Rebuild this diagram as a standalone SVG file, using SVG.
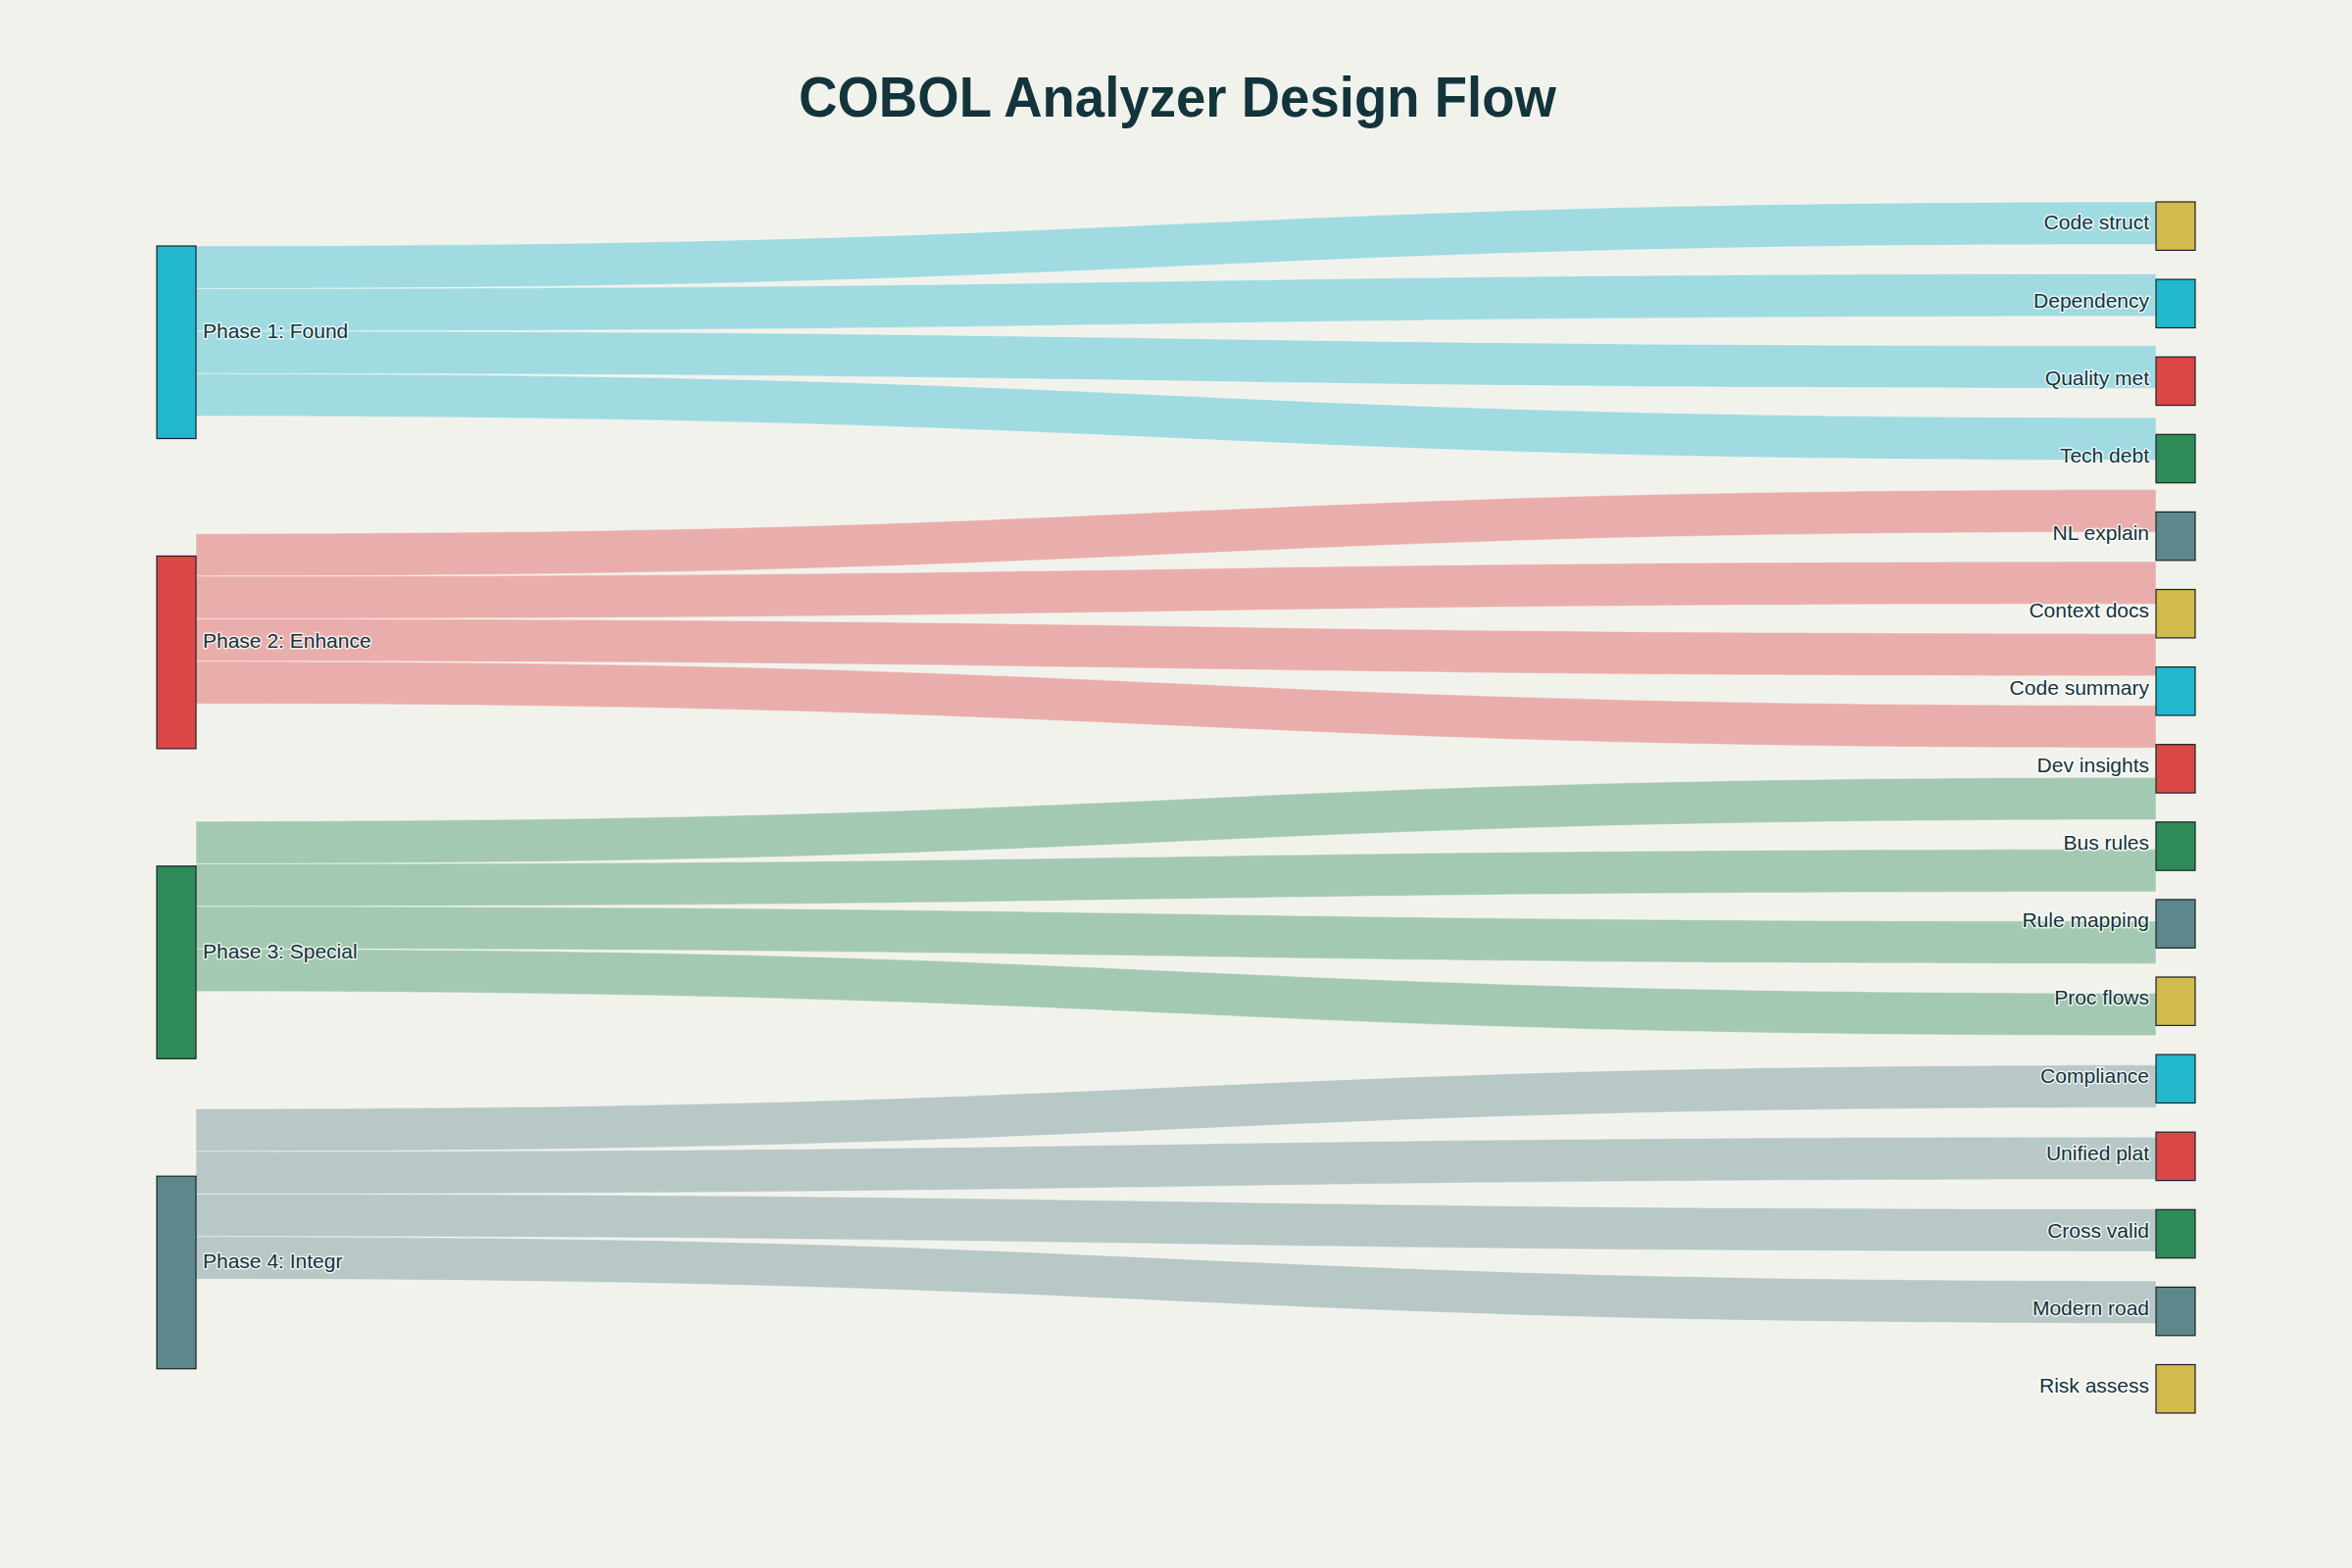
<svg xmlns="http://www.w3.org/2000/svg" width="2400" height="1600" viewBox="0 0 2400 1600">
<style>
.bg{fill:#f2f2ed}
.title{font-family:"Liberation Sans",Arial,sans-serif;font-weight:bold;font-size:58px;fill:#13343b}
.lbl{font-family:"Liberation Sans",Arial,sans-serif;font-size:21px;fill:#13343b;paint-order:stroke;stroke:#ffffff;stroke-opacity:0.75;stroke-width:3px;stroke-linejoin:round}
.lr{text-anchor:end}
.node{stroke:#1a2326;stroke-width:1.2}
.c{fill:#21b8cd}.r{fill:#db4747}.g{fill:#2e8b57}.s{fill:#5e878c}.y{fill:#d2ba4c}
.link{stroke:#f6f6f2;stroke-width:0.8;stroke-opacity:0.6}
.lc{fill:#9fdbe1}.lr2{fill:#e9aeab}.lg{fill:#a4c9b2}.ls{fill:#b7c8c7}
</style>
<rect class="bg" x="0" y="0" width="2400" height="1600"/>
<text class="title" x="815" y="119" textLength="773" lengthAdjust="spacingAndGlyphs">COBOL Analyzer Design Flow</text>
<g id="links">
<path class="link lc" d="M200,251C1200,251 1200,206 2200,206L2200,249.4C1200,249.4 1200,294.4 200,294.4Z"/>
<path class="link lc" d="M200,294.45C1200,294.45 1200,279.4 2200,279.4L2200,322.8C1200,322.8 1200,337.85 200,337.85Z"/>
<path class="link lc" d="M200,337.9C1200,337.9 1200,352.8 2200,352.8L2200,396.2C1200,396.2 1200,381.3 200,381.3Z"/>
<path class="link lc" d="M200,381.35C1200,381.35 1200,426.2 2200,426.2L2200,469.6C1200,469.6 1200,424.75 200,424.75Z"/>
<path class="link lr2" d="M200,544.5C1200,544.5 1200,499.6 2200,499.6L2200,543C1200,543 1200,587.9 200,587.9Z"/>
<path class="link lr2" d="M200,587.95C1200,587.95 1200,573 2200,573L2200,616.4C1200,616.4 1200,631.35 200,631.35Z"/>
<path class="link lr2" d="M200,631.4C1200,631.4 1200,646.4 2200,646.4L2200,689.8C1200,689.8 1200,674.8 200,674.8Z"/>
<path class="link lr2" d="M200,674.85C1200,674.85 1200,719.8 2200,719.8L2200,763.2C1200,763.2 1200,718.25 200,718.25Z"/>
<path class="link lg" d="M200,838C1200,838 1200,793.2 2200,793.2L2200,836.6C1200,836.6 1200,881.4 200,881.4Z"/>
<path class="link lg" d="M200,881.45C1200,881.45 1200,866.6 2200,866.6L2200,910C1200,910 1200,924.85 200,924.85Z"/>
<path class="link lg" d="M200,924.9C1200,924.9 1200,940 2200,940L2200,983.4C1200,983.4 1200,968.3 200,968.3Z"/>
<path class="link lg" d="M200,968.35C1200,968.35 1200,1013.4 2200,1013.4L2200,1056.8C1200,1056.8 1200,1011.75 200,1011.75Z"/>
<path class="link ls" d="M200,1131.5C1200,1131.5 1200,1086.8 2200,1086.8L2200,1130.2C1200,1130.2 1200,1174.9 200,1174.9Z"/>
<path class="link ls" d="M200,1174.95C1200,1174.95 1200,1160.2 2200,1160.2L2200,1203.6C1200,1203.6 1200,1218.35 200,1218.35Z"/>
<path class="link ls" d="M200,1218.4C1200,1218.4 1200,1233.6 2200,1233.6L2200,1277C1200,1277 1200,1261.8 200,1261.8Z"/>
<path class="link ls" d="M200,1261.85C1200,1261.85 1200,1307 2200,1307L2200,1350.4C1200,1350.4 1200,1305.25 200,1305.25Z"/>
</g>
<g id="phase1"><rect class="node c" x="160" y="251" width="40" height="196.5"/><text class="lbl" x="207" y="345">Phase 1: Found</text></g>
<g id="phase2"><rect class="node r" x="160" y="567.4" width="40" height="196.5"/><text class="lbl" x="207" y="661">Phase 2: Enhance</text></g>
<g id="phase3"><rect class="node g" x="160" y="883.8" width="40" height="196.5"/><text class="lbl" x="207" y="978">Phase 3: Special</text></g>
<g id="phase4"><rect class="node s" x="160" y="1200.2" width="40" height="196.5"/><text class="lbl" x="207" y="1294">Phase 4: Integr</text></g>
<g id="code-struct"><rect class="node y" x="2200" y="206" width="40" height="49.4"/><text class="lbl lr" x="2193" y="234.4">Code struct</text></g>
<g id="dependency"><rect class="node c" x="2200" y="285.1" width="40" height="49.4"/><text class="lbl lr" x="2193" y="313.5">Dependency</text></g>
<g id="quality-met"><rect class="node r" x="2200" y="364.2" width="40" height="49.4"/><text class="lbl lr" x="2193" y="392.6">Quality met</text></g>
<g id="tech-debt"><rect class="node g" x="2200" y="443.3" width="40" height="49.4"/><text class="lbl lr" x="2193" y="471.7">Tech debt</text></g>
<g id="nl-explain"><rect class="node s" x="2200" y="522.4" width="40" height="49.4"/><text class="lbl lr" x="2193" y="550.8">NL explain</text></g>
<g id="context-docs"><rect class="node y" x="2200" y="601.5" width="40" height="49.4"/><text class="lbl lr" x="2193" y="629.9">Context docs</text></g>
<g id="code-summary"><rect class="node c" x="2200" y="680.6" width="40" height="49.4"/><text class="lbl lr" x="2193" y="709">Code summary</text></g>
<g id="dev-insights"><rect class="node r" x="2200" y="759.7" width="40" height="49.4"/><text class="lbl lr" x="2193" y="788.1">Dev insights</text></g>
<g id="bus-rules"><rect class="node g" x="2200" y="838.8" width="40" height="49.4"/><text class="lbl lr" x="2193" y="867.2">Bus rules</text></g>
<g id="rule-mapping"><rect class="node s" x="2200" y="917.9" width="40" height="49.4"/><text class="lbl lr" x="2193" y="946.3">Rule mapping</text></g>
<g id="proc-flows"><rect class="node y" x="2200" y="997" width="40" height="49.4"/><text class="lbl lr" x="2193" y="1025.4">Proc flows</text></g>
<g id="compliance"><rect class="node c" x="2200" y="1076.1" width="40" height="49.4"/><text class="lbl lr" x="2193" y="1104.5">Compliance</text></g>
<g id="unified-plat"><rect class="node r" x="2200" y="1155.2" width="40" height="49.4"/><text class="lbl lr" x="2193" y="1183.6">Unified plat</text></g>
<g id="cross-valid"><rect class="node g" x="2200" y="1234.3" width="40" height="49.4"/><text class="lbl lr" x="2193" y="1262.7">Cross valid</text></g>
<g id="modern-road"><rect class="node s" x="2200" y="1313.4" width="40" height="49.4"/><text class="lbl lr" x="2193" y="1341.8">Modern road</text></g>
<g id="risk-assess"><rect class="node y" x="2200" y="1392.5" width="40" height="49.4"/><text class="lbl lr" x="2193" y="1420.9">Risk assess</text></g>
</svg>
